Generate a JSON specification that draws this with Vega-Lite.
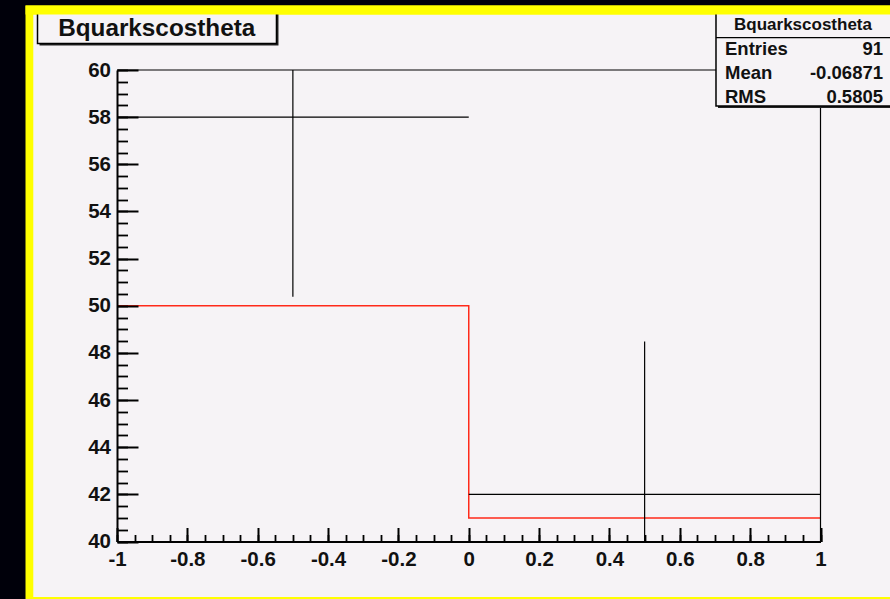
{
  "$schema": "https://vega.github.io/schema/vega-lite/v6.json",
  "width": 703.5,
  "height": 471.5,
  "autosize": {"type": "none"},
  "padding": {"left": 117, "top": 70, "right": 69.5, "bottom": 57.5},
  "background": "#00000a",
  "config": {"view": {"stroke": null}, "font": "Liberation Sans"},
  "data": {"values": [
    {"lo": -1, "hi": 0, "center": -0.5, "mc": 50, "data": 58, "errlo": 50.38, "errhi": 65.62},
    {"lo": 0, "hi": 1, "center": 0.5, "mc": 41, "data": 42, "errlo": 35.52, "errhi": 48.48}
  ]},
  "resolve": {"axis": {"x": "independent", "y": "independent"}},
  "layer": [
    {
      "data": {"values": [{}]},
      "mark": {"type": "rect", "color": "#ffff00"},
      "encoding": {
        "x": {"datum": -1.2601, "type": "quantitative", "scale": {"domain": [-1, 1], "nice": false, "zero": false}, "axis": null},
        "x2": {"datum": 1.4},
        "y": {"datum": 36.5, "type": "quantitative", "scale": {"domain": [40, 60], "nice": false, "zero": false}, "axis": null},
        "y2": {"datum": 62.736}
      }
    },
    {
      "data": {"values": [{}]},
      "mark": {"type": "rect", "color": "#f6f3f6"},
      "encoding": {
        "x": {"datum": -1.238, "type": "quantitative", "scale": {"domain": [-1, 1], "nice": false, "zero": false}, "axis": null},
        "x2": {"datum": 1.4},
        "y": {"datum": 37.646, "type": "quantitative", "scale": {"domain": [40, 60], "nice": false, "zero": false}, "axis": null},
        "y2": {"datum": 62.354}
      }
    },
    {
      "transform": [{"fold": ["lo", "hi"], "as": ["edge", "xe"]}],
      "mark": {"type": "line", "color": "#ff2a1a", "strokeWidth": 1.5},
      "encoding": {
        "x": {"field": "xe", "type": "quantitative", "scale": {"domain": [-1, 1], "nice": false, "zero": false},
          "axis": {"orient": "bottom", "values": [-1, -0.8, -0.6, -0.4, -0.2, 0, 0.2, 0.4, 0.6, 0.8, 1], "ticks": false, "grid": false, "domain": true, "domainColor": "black", "domainWidth": 2, "labels": true, "labelFont": "Liberation Sans", "labelFontWeight": "bold", "labelFontSize": 20.5, "labelColor": "#111111", "labelPadding": 7.5, "labelExpr": "'' + datum.value", "labelFlush": false, "labelOverlap": false, "labelBound": false, "title": null, "zindex": 1}},
        "y": {"field": "mc", "type": "quantitative", "scale": {"domain": [40, 60], "nice": false, "zero": false},
          "axis": {"orient": "left", "values": [40, 42, 44, 46, 48, 50, 52, 54, 56, 58, 60], "ticks": false, "grid": false, "domain": true, "domainColor": "black", "domainWidth": 2, "labels": true, "labelFont": "Liberation Sans", "labelFontWeight": "bold", "labelFontSize": 20.5, "labelColor": "#111111", "labelPadding": 6.5, "labelExpr": "'' + datum.value", "labelFlush": false, "labelOverlap": false, "labelBound": false, "title": null, "zindex": 1}},
        "order": {"value": null}
      }
    },
    {
      "mark": {"type": "rule", "color": "black", "strokeWidth": 1.2},
      "encoding": {
        "x": {"field": "lo", "type": "quantitative", "scale": {"domain": [-1, 1], "nice": false, "zero": false},
          "axis": {"orient": "top", "offset": -471.5, "values": [-1, -0.8, -0.6, -0.4, -0.2, 0, 0.2, 0.4, 0.6, 0.8, 1], "ticks": true, "tickSize": 14, "tickWidth": 2, "tickColor": "black", "labels": false, "domain": false, "grid": false, "title": null, "zindex": 1}},
        "x2": {"field": "hi"},
        "y": {"field": "data", "type": "quantitative", "scale": {"domain": [40, 60], "nice": false, "zero": false},
          "axis": {"orient": "right", "offset": -703.5, "values": [40, 42, 44, 46, 48, 50, 52, 54, 56, 58, 60], "ticks": true, "tickSize": 21, "tickWidth": 2, "tickColor": "black", "labels": false, "domain": false, "grid": false, "title": null, "zindex": 1}}
      }
    },
    {
      "mark": {"type": "rule", "color": "black", "strokeWidth": 1.2, "clip": true},
      "encoding": {
        "x": {"field": "center", "type": "quantitative", "scale": {"domain": [-1, 1], "nice": false, "zero": false},
          "axis": {"orient": "top", "offset": -471.5, "values": [-1, -0.95, -0.9, -0.85, -0.8, -0.75, -0.7, -0.65, -0.6, -0.55, -0.5, -0.45, -0.4, -0.35, -0.3, -0.25, -0.2, -0.15, -0.1, -0.05, 0, 0.05, 0.1, 0.15, 0.2, 0.25, 0.3, 0.35, 0.4, 0.45, 0.5, 0.55, 0.6, 0.65, 0.7, 0.75, 0.8, 0.85, 0.9, 0.95, 1], "ticks": true, "tickSize": 7, "tickWidth": 1.8, "tickColor": "black", "labels": false, "domain": false, "grid": false, "title": null, "zindex": 1}},
        "y": {"field": "errlo", "type": "quantitative", "scale": {"domain": [40, 60], "nice": false, "zero": false},
          "axis": {"orient": "right", "offset": -703.5, "values": [40, 40.5, 41, 41.5, 42, 42.5, 43, 43.5, 44, 44.5, 45, 45.5, 46, 46.5, 47, 47.5, 48, 48.5, 49, 49.5, 50, 50.5, 51, 51.5, 52, 52.5, 53, 53.5, 54, 54.5, 55, 55.5, 56, 56.5, 57, 57.5, 58, 58.5, 59, 59.5, 60], "ticks": true, "tickSize": 10.5, "tickWidth": 1.8, "tickColor": "black", "labels": false, "domain": false, "grid": false, "title": null, "zindex": 1}},
        "y2": {"field": "errhi"}
      }
    },
    {
      "data": {"values": [{}]},
      "mark": {"type": "rule", "color": "black", "strokeWidth": 1.2},
      "encoding": {
        "x": {"datum": -1, "type": "quantitative", "scale": {"domain": [-1, 1], "nice": false, "zero": false}, "axis": null},
        "x2": {"datum": 1},
        "y": {"datum": 60, "type": "quantitative", "scale": {"domain": [40, 60], "nice": false, "zero": false}, "axis": null}
      }
    },
    {
      "data": {"values": [{}]},
      "mark": {"type": "rule", "color": "black", "strokeWidth": 1.2},
      "encoding": {
        "x": {"datum": 1, "type": "quantitative", "scale": {"domain": [-1, 1], "nice": false, "zero": false}, "axis": null},
        "y": {"datum": 40, "type": "quantitative", "scale": {"domain": [40, 60], "nice": false, "zero": false}, "axis": null},
        "y2": {"datum": 60}
      }
    },
    {
      "data": {"values": [{}]},
      "mark": {"type": "rect", "color": "#222222", "xOffset": 2, "x2Offset": 2, "yOffset": 2, "y2Offset": 2},
      "encoding": {
        "x": {"datum": -1.226, "type": "quantitative", "scale": {"domain": [-1, 1], "nice": false, "zero": false}, "axis": null},
        "x2": {"datum": -0.5466},
        "y": {"datum": 61.124, "type": "quantitative", "scale": {"domain": [40, 60], "nice": false, "zero": false}, "axis": null},
        "y2": {"datum": 62.63}
      }
    },
    {
      "data": {"values": [{}]},
      "mark": {"type": "rect", "fill": "#f6f3f6", "stroke": "black", "strokeWidth": 1.5},
      "encoding": {
        "x": {"datum": -1.226, "type": "quantitative", "scale": {"domain": [-1, 1], "nice": false, "zero": false}, "axis": null},
        "x2": {"datum": -0.5466},
        "y": {"datum": 61.124, "type": "quantitative", "scale": {"domain": [40, 60], "nice": false, "zero": false}, "axis": null},
        "y2": {"datum": 62.63}
      }
    },
    {
      "data": {"values": [{}]},
      "mark": {"type": "text", "font": "Liberation Sans", "fontWeight": "bold", "fontSize": 24.3, "align": "center", "baseline": "alphabetic", "color": "#111111"},
      "encoding": {
        "x": {"datum": -0.8871, "type": "quantitative", "scale": {"domain": [-1, 1], "nice": false, "zero": false}, "axis": null},
        "y": {"datum": 61.442, "type": "quantitative", "scale": {"domain": [40, 60], "nice": false, "zero": false}, "axis": null},
        "text": {"value": "Bquarkscostheta"}
      }
    },
    {
      "data": {"values": [{}]},
      "mark": {"type": "rect", "color": "#222222", "xOffset": 2, "x2Offset": 2, "yOffset": 2, "y2Offset": 2},
      "encoding": {
        "x": {"datum": 0.7029, "type": "quantitative", "scale": {"domain": [-1, 1], "nice": false, "zero": false}, "axis": null},
        "x2": {"datum": 1.4},
        "y": {"datum": 58.473, "type": "quantitative", "scale": {"domain": [40, 60], "nice": false, "zero": false}, "axis": null},
        "y2": {"datum": 62.63}
      }
    },
    {
      "data": {"values": [{}]},
      "mark": {"type": "rect", "fill": "#f6f3f6", "stroke": "black", "strokeWidth": 1.5},
      "encoding": {
        "x": {"datum": 0.7029, "type": "quantitative", "scale": {"domain": [-1, 1], "nice": false, "zero": false}, "axis": null},
        "x2": {"datum": 1.4},
        "y": {"datum": 58.473, "type": "quantitative", "scale": {"domain": [40, 60], "nice": false, "zero": false}, "axis": null},
        "y2": {"datum": 62.63}
      }
    },
    {
      "data": {"values": [{}]},
      "mark": {"type": "rule", "color": "black", "strokeWidth": 1.2},
      "encoding": {
        "x": {"datum": 0.7029, "type": "quantitative", "scale": {"domain": [-1, 1], "nice": false, "zero": false}, "axis": null},
        "x2": {"datum": 1.4},
        "y": {"datum": 61.37, "type": "quantitative", "scale": {"domain": [40, 60], "nice": false, "zero": false}, "axis": null}
      }
    },
    {
      "data": {"values": [{}]},
      "mark": {"type": "text", "font": "Liberation Sans", "fontWeight": "bold", "fontSize": 17, "align": "center", "baseline": "alphabetic", "color": "#111111"},
      "encoding": {
        "x": {"datum": 0.9503, "type": "quantitative", "scale": {"domain": [-1, 1], "nice": false, "zero": false}, "axis": null},
        "y": {"datum": 61.697, "type": "quantitative", "scale": {"domain": [40, 60], "nice": false, "zero": false}, "axis": null},
        "text": {"value": "Bquarkscostheta"}
      }
    },
    {
      "data": {"values": [{}]},
      "mark": {"type": "text", "font": "Liberation Sans", "fontWeight": "bold", "fontSize": 18.5, "align": "left", "baseline": "alphabetic", "color": "#111111"},
      "encoding": {
        "x": {"datum": 0.7285, "type": "quantitative", "scale": {"domain": [-1, 1], "nice": false, "zero": false}, "axis": null},
        "y": {"datum": 60.636, "type": "quantitative", "scale": {"domain": [40, 60], "nice": false, "zero": false}, "axis": null},
        "text": {"value": "Entries"}
      }
    },
    {
      "data": {"values": [{}]},
      "mark": {"type": "text", "font": "Liberation Sans", "fontWeight": "bold", "fontSize": 18.5, "align": "left", "baseline": "alphabetic", "color": "#111111"},
      "encoding": {
        "x": {"datum": 0.7285, "type": "quantitative", "scale": {"domain": [-1, 1], "nice": false, "zero": false}, "axis": null},
        "y": {"datum": 59.606, "type": "quantitative", "scale": {"domain": [40, 60], "nice": false, "zero": false}, "axis": null},
        "text": {"value": "Mean"}
      }
    },
    {
      "data": {"values": [{}]},
      "mark": {"type": "text", "font": "Liberation Sans", "fontWeight": "bold", "fontSize": 18.5, "align": "left", "baseline": "alphabetic", "color": "#111111"},
      "encoding": {
        "x": {"datum": 0.7285, "type": "quantitative", "scale": {"domain": [-1, 1], "nice": false, "zero": false}, "axis": null},
        "y": {"datum": 58.6, "type": "quantitative", "scale": {"domain": [40, 60], "nice": false, "zero": false}, "axis": null},
        "text": {"value": "RMS"}
      }
    },
    {
      "data": {"values": [{}]},
      "mark": {"type": "text", "font": "Liberation Sans", "fontWeight": "bold", "fontSize": 18.5, "align": "right", "baseline": "alphabetic", "color": "#111111"},
      "encoding": {
        "x": {"datum": 1.1777, "type": "quantitative", "scale": {"domain": [-1, 1], "nice": false, "zero": false}, "axis": null},
        "y": {"datum": 60.636, "type": "quantitative", "scale": {"domain": [40, 60], "nice": false, "zero": false}, "axis": null},
        "text": {"value": "91"}
      }
    },
    {
      "data": {"values": [{}]},
      "mark": {"type": "text", "font": "Liberation Sans", "fontWeight": "bold", "fontSize": 18.5, "align": "right", "baseline": "alphabetic", "color": "#111111"},
      "encoding": {
        "x": {"datum": 1.1777, "type": "quantitative", "scale": {"domain": [-1, 1], "nice": false, "zero": false}, "axis": null},
        "y": {"datum": 59.606, "type": "quantitative", "scale": {"domain": [40, 60], "nice": false, "zero": false}, "axis": null},
        "text": {"value": "-0.06871"}
      }
    },
    {
      "data": {"values": [{}]},
      "mark": {"type": "text", "font": "Liberation Sans", "fontWeight": "bold", "fontSize": 18.5, "align": "right", "baseline": "alphabetic", "color": "#111111"},
      "encoding": {
        "x": {"datum": 1.1777, "type": "quantitative", "scale": {"domain": [-1, 1], "nice": false, "zero": false}, "axis": null},
        "y": {"datum": 58.6, "type": "quantitative", "scale": {"domain": [40, 60], "nice": false, "zero": false}, "axis": null},
        "text": {"value": "0.5805"}
      }
    },
    {
      "data": {"values": [{}]},
      "mark": {"type": "rect", "color": "#ffff00"},
      "encoding": {
        "x": {"datum": -1.2601, "type": "quantitative", "scale": {"domain": [-1, 1], "nice": false, "zero": false}, "axis": null},
        "x2": {"datum": 1.4},
        "y": {"datum": 62.354, "type": "quantitative", "scale": {"domain": [40, 60], "nice": false, "zero": false}, "axis": null},
        "y2": {"datum": 62.736}
      }
    }
  ]
}
